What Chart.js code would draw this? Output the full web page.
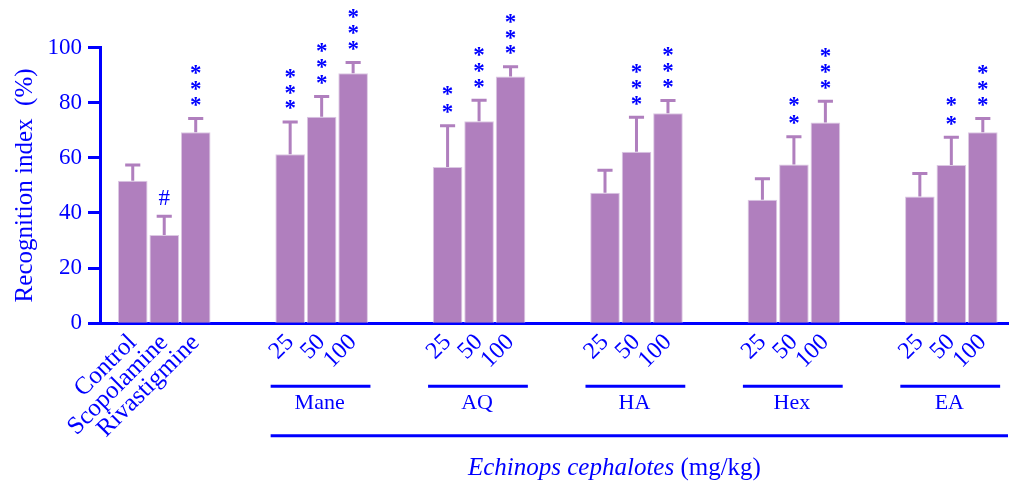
<!DOCTYPE html>
<html>
<head>
<meta charset="utf-8">
<script src="https://cdn.jsdelivr.net/npm/chart.js@4.4.1/dist/chart.umd.min.js"></script>
<style>
  html, body { margin: 0; padding: 0; background: #ffffff; }
  canvas { display: block; }
</style>
</head>
<body>
<canvas id="chart" width="1009" height="482"></canvas>
<script>
// Recognition index (%) per treatment group, mean and SEM
const categories = ['Control', 'Scopolamine', 'Rivastigmine',
  '25', '50', '100', '25', '50', '100', '25', '50', '100', '25', '50', '100', '25', '50', '100'];
const extractNames = ['Mane', 'AQ', 'HA', 'Hex', 'EA'];
const recognition = [51.7, 32.0, 69.3,
  61.3, 74.9, 90.7,
  56.7, 73.3, 89.5,
  47.3, 62.2, 76.2,
  44.8, 57.6, 72.8,
  46.0, 57.4, 69.3];
const sem = [5.7, 6.8, 5.0,
  11.7, 7.3, 3.9,
  14.9, 7.6, 3.5,
  8.2, 12.5, 4.6,
  7.6, 10.0, 7.7,
  8.3, 10.1, 5.0];
const significance = ['', '#', '***',
  '***', '***', '***',
  '**', '***', '***',
  '', '***', '***',
  '', '**', '***',
  '', '**', '***'];
const yTicks = [0, 20, 40, 60, 80, 100];
const xTitleItalic = 'Echinops cephalotes';
const xTitleRest = ' (mg/kg)';

const BLUE = '#0000ff';
const BAR = '#b07fbe';
const BAR_EDGE = '#dcc8e3';
const SERIF = '"Liberation Serif", "Times New Roman", serif';

// three bars per block, two empty slots between blocks
const slotOf = i => Math.floor(i / 3) * 5 + (i % 3) + 1;
const slots = categories.map((_, i) => slotOf(i));

const annotations = {
  id: 'annotations',
  afterDatasetsDraw(chart) {
    const { ctx, chartArea, scales } = chart;
    const x = scales.x, y = scales.y;
    const unit = x.getPixelForValue(1) - x.getPixelForValue(0);
    ctx.save();

    // upward error bars
    ctx.strokeStyle = BAR;
    ctx.lineWidth = 3;
    ctx.lineCap = 'butt';
    recognition.forEach((v, i) => {
      const px = x.getPixelForValue(slots[i]);
      const top = y.getPixelForValue(v);
      const cap = y.getPixelForValue(v + sem[i]);
      ctx.beginPath();
      ctx.moveTo(px, top);
      ctx.lineTo(px, cap);
      ctx.moveTo(px - unit * 0.24, cap);
      ctx.lineTo(px + unit * 0.24, cap);
      ctx.stroke();
    });

    // significance marks above the error bars
    ctx.fillStyle = BLUE;
    ctx.textAlign = 'center';
    ctx.textBaseline = 'alphabetic';
    significance.forEach((s, i) => {
      if (!s) return;
      const px = x.getPixelForValue(slots[i]);
      const cap = y.getPixelForValue(recognition[i] + sem[i]);
      if (s === '#') {
        ctx.font = '23px ' + SERIF;
        const m = ctx.measureText('#');
        const cy = cap - 19;
        ctx.fillText('#', px, cy + (m.actualBoundingBoxAscent - m.actualBoundingBoxDescent) / 2);
        return;
      }
      ctx.font = 'bold 23px ' + SERIF;
      const m = ctx.measureText('*');
      const gap = s.length === 2 ? 18.5 : 15.8;
      for (let k = 0; k < s.length; k++) {
        const cy = cap - 17 - k * gap;
        ctx.fillText('*', px, cy + (m.actualBoundingBoxAscent - m.actualBoundingBoxDescent) / 2);
      }
    });

    // extract brackets and names under the dose labels
    ctx.strokeStyle = BLUE;
    ctx.lineWidth = 3;
    ctx.font = '22px ' + SERIF;
    ctx.textAlign = 'center';
    const lineY = chartArea.bottom + 63;
    extractNames.forEach((name, g) => {
      const first = slots[3 + g * 3], last = slots[5 + g * 3];
      const x0 = x.getPixelForValue(first - 0.62);
      const x1 = Math.min(x.getPixelForValue(last + 0.55), chartArea.right);
      ctx.beginPath();
      ctx.moveTo(x0, lineY);
      ctx.lineTo(x1, lineY);
      ctx.stroke();
      ctx.fillText(name, (x.getPixelForValue(first) + x.getPixelForValue(last)) / 2 - 2, chartArea.bottom + 86);
    });

    // long rule spanning all extracts
    const longY = chartArea.bottom + 112.5;
    ctx.beginPath();
    ctx.moveTo(x.getPixelForValue(slots[3] - 0.62), longY);
    ctx.lineTo(chartArea.right, longY);
    ctx.stroke();

    // axis title, species name in italics
    const italicFont = 'italic 25px ' + SERIF;
    const plainFont = '25px ' + SERIF;
    ctx.font = italicFont;
    const w1 = ctx.measureText(xTitleItalic).width;
    ctx.font = plainFont;
    const w2 = ctx.measureText(xTitleRest).width;
    const cx = x.getPixelForValue(16.3);
    const startX = cx - (w1 + w2) / 2;
    const baseY = chartArea.bottom + 152;
    ctx.textAlign = 'left';
    ctx.font = italicFont;
    ctx.fillText(xTitleItalic, startX, baseY);
    ctx.font = plainFont;
    ctx.fillText(xTitleRest, startX + w1, baseY);

    ctx.restore();
  }
};

new Chart(document.getElementById('chart'), {
  type: 'bar',
  data: {
    datasets: [{
      data: recognition.map((v, i) => ({ x: slots[i], y: v })),
      backgroundColor: BAR,
      borderColor: BAR_EDGE,
      borderWidth: 1,
      borderSkipped: 'bottom',
      categoryPercentage: 1.0,
      barPercentage: 0.94
    }]
  },
  options: {
    responsive: false,
    animation: false,
    devicePixelRatio: 1,
    layout: { padding: { top: 47.5, right: 1, left: 0, bottom: 0 } },
    plugins: { legend: { display: false }, tooltip: { enabled: false } },
    scales: {
      x: {
        type: 'linear',
        offset: false,
        min: -0.04,
        max: 28.8,
        grid: { display: false, drawTicks: false, offset: false },
        border: { display: true, color: BLUE, width: 3 },
        afterBuildTicks: axis => { axis.ticks = slots.map(v => ({ value: v })); },
        afterFit: axis => { axis.height = 158.7; },
        ticks: {
          autoSkip: false,
          minRotation: 45,
          maxRotation: 45,
          padding: 5,
          color: BLUE,
          font: ctx => ({ family: SERIF, size: ctx.index < 3 ? 25 : 24 }),
          callback: (value, index) => categories[index]
        }
      },
      y: {
        min: 0,
        max: 100,
        afterBuildTicks: axis => { axis.ticks = yTicks.map(v => ({ value: v })); },
        afterFit: axis => { axis.width = 100; },
        grid: { drawOnChartArea: false, drawTicks: true, tickLength: 12, tickWidth: 3, tickColor: BLUE },
        border: { display: true, color: BLUE, width: 3 },
        ticks: {
          padding: 6,
          color: BLUE,
          font: { family: SERIF, size: 23 }
        },
        title: {
          display: true,
          text: 'Recognition index  (%)',
          color: BLUE,
          font: { family: SERIF, size: 25 },
          padding: { top: 10, bottom: 0 }
        }
      }
    }
  },
  plugins: [annotations]
});
</script>
</body>
</html>
